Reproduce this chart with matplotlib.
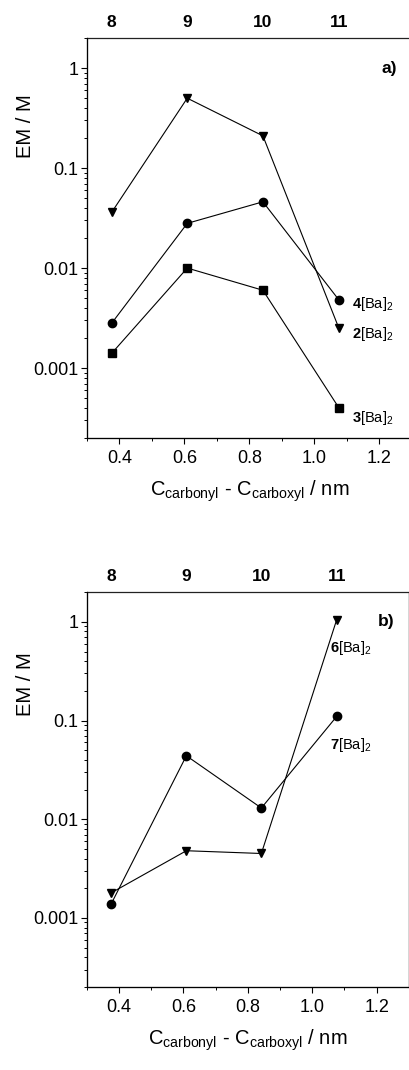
import matplotlib
matplotlib.use("Agg")
from matplotlib import pyplot as plt
from matplotlib.ticker import FixedLocator, NullFormatter, LogLocator

plt.rcParams['font.family'] = ['Liberation Sans', 'DejaVu Sans']
plt.rcParams['mathtext.fontset'] = 'custom'
plt.rcParams['mathtext.rm'] = 'Liberation Sans'
plt.rcParams['mathtext.it'] = 'Liberation Sans'
plt.rcParams['mathtext.bf'] = 'Liberation Sans:bold'

# C_carbonyl - C_carboxyl distance (nm) and ring size
distance = [0.376, 0.609, 0.842, 1.076]
ring_size = ['8', '9', '10', '11']

# panel a
em_2 = [0.036, 0.5, 0.21, 0.0025]
em_4 = [0.0028, 0.028, 0.046, 0.0048]
em_3 = [0.0014, 0.01, 0.006, 0.0004]

# panel b
em_6 = [0.0018, 0.0048, 0.0045, 1.05]
em_7 = [0.0014, 0.044, 0.013, 0.11]


def setup_axes(ax, tag):
    ax.set_yscale('log')
    ax.set_xlim(0.3, 1.3)
    ax.set_ylim(2e-4, 2)
    ax.set_yticks([0.001, 0.01, 0.1, 1])
    ax.set_yticklabels(['0.001', '0.01', '0.1', '1'])
    ax.yaxis.set_minor_locator(LogLocator(base=10, subs=range(2, 10)))
    ax.yaxis.set_minor_formatter(NullFormatter())
    ax.set_xticks([0.4, 0.6, 0.8, 1.0, 1.2])
    ax.set_xticklabels(['0.4', '0.6', '0.8', '1.0', '1.2'])
    ax.xaxis.set_minor_locator(FixedLocator([0.3, 0.5, 0.7, 0.9, 1.1, 1.3]))
    ax.tick_params(which='major', direction='out', length=4, width=0.8,
                   labelsize=13, pad=5)
    ax.tick_params(axis='y', which='major', pad=2)
    ax.tick_params(which='minor', direction='out', length=2.5, width=0.7)
    for s in ax.spines.values():
        s.set_linewidth(0.9)
        s.set_color('#222222')
    ax.set_xlabel(r'C$_{\mathrm{carbonyl}}$ - C$_{\mathrm{carboxyl}}$ / nm',
                  fontsize=14.5, labelpad=8)
    ax.set_ylabel('EM / M', fontsize=14.5)

    top = ax.twiny()
    top.set_xlim(ax.get_xlim())
    top.set_xticks(distance)
    top.set_xticklabels(ring_size, fontweight='bold', fontsize=12.5)
    top.tick_params(length=0, pad=6)
    top.spines['top'].set_visible(False)

    ax.text(1.23, 1.0, tag, fontsize=12.5, fontweight='bold',
            ha='center', va='center')


fig = plt.figure(figsize=(4.1, 10.7), dpi=100)

ax1 = fig.add_axes([0.212, 0.5907, 0.792, 0.3738])
setup_axes(ax1, 'a)')
ax1.plot(distance, em_2, 'kv-', ms=5.5, lw=0.8)
ax1.plot(distance, em_4, 'ko-', ms=6, lw=0.8)
ax1.plot(distance, em_3, 'ks-', ms=5.5, lw=0.8)
ax1.text(1.115, 0.0044, r'$\mathbf{4}$[Ba]$_2$', fontsize=10.5, va='center')
ax1.text(1.115, 0.0022, r'$\mathbf{2}$[Ba]$_2$', fontsize=10.5, va='center')
ax1.text(1.115, 0.00032, r'$\mathbf{3}$[Ba]$_2$', fontsize=10.5, va='center')
ax1.yaxis.set_label_coords(-0.16, 0.78)

ax2 = fig.add_axes([0.212, 0.0776, 0.785, 0.369])
setup_axes(ax2, 'b)')
ax2.plot(distance, em_6, 'kv-', ms=5.5, lw=0.8)
ax2.plot(distance, em_7, 'ko-', ms=6, lw=0.8)
ax2.text(1.056, 0.545, r'$\mathbf{6}$[Ba]$_2$', fontsize=10.5, va='center')
ax2.text(1.056, 0.057, r'$\mathbf{7}$[Ba]$_2$', fontsize=10.5, va='center')
ax2.yaxis.set_label_coords(-0.16, 0.767)

fig.savefig('out.png', dpi=100)
